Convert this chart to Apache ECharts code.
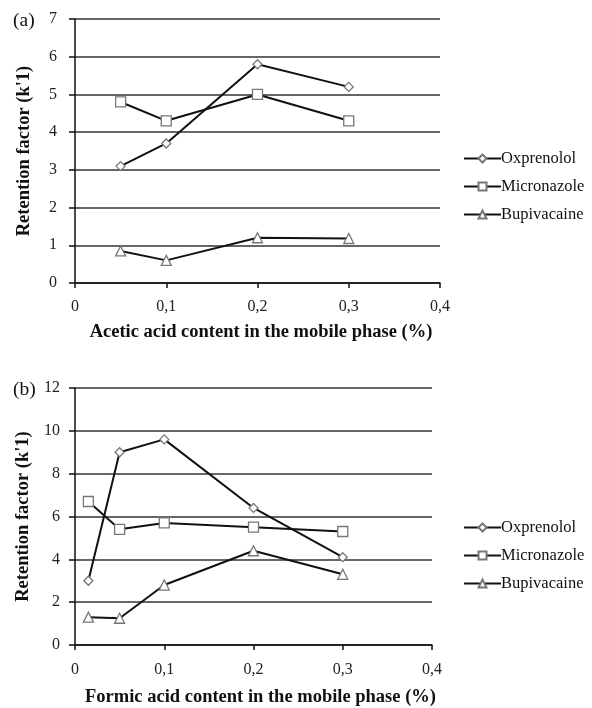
<!DOCTYPE html>
<html><head><meta charset="utf-8">
<script src="https://cdn.jsdelivr.net/npm/echarts@6/dist/echarts.min.js"></script>
<style>html,body{margin:0;padding:0;background:#fff}#c{width:592px;height:708px}</style>
</head><body><div id="c"></div>
<script>
const seriesNames = ['Oxprenolol', 'Micronazole', 'Bupivacaine'];
const symbols = ['diamond', 'rect', 'triangle'];
const symbolSizes = [9, 10, 10];

// Panel (a): acetic acid
const aceticX = [0.05, 0.1, 0.2, 0.3];
const aceticOxprenolol = [3.1, 3.7, 5.8, 5.2];
const aceticMicronazole = [4.8, 4.3, 5.0, 4.3];
const aceticBupivacaine = [0.85, 0.6, 1.2, 1.18];

// Panel (b): formic acid
const formicX = [0.015, 0.05, 0.1, 0.2, 0.3];
const formicOxprenolol = [3.0, 9.0, 9.6, 6.4, 4.1];
const formicMicronazole = [6.7, 5.4, 5.7, 5.5, 5.3];
const formicBupivacaine = [1.3, 1.25, 2.8, 4.4, 3.3];

const xTicks = ['0', '0,1', '0,2', '0,3', '0,4'];

const font = 'Liberation Serif';
const pair = (xs, ys) => xs.map((x, i) => [x, ys[i]]);

function mkSeries(idx, name, xs, ys, k) {
  return {
    type: 'line', name: name, xAxisIndex: idx, yAxisIndex: idx,
    data: pair(xs, ys),
    symbol: symbols[k], symbolSize: symbolSizes[k],
    lineStyle: { color: '#111', width: 2 },
    itemStyle: { color: '#fff', borderColor: '#777', borderWidth: 1.3 },
    emphasis: { disabled: true },
    z: 3
  };
}

function mkX(gridIdx, title, labelMargin, nameGap, shift) {
  return {
    type: 'value', gridIndex: gridIdx, min: 0, max: 0.4, interval: 0.1,
    name: title, nameLocation: 'middle', nameGap: nameGap,
    nameTextStyle: { fontFamily: font, fontSize: 18.5, fontWeight: 'bold', color: '#111',
      padding: [0, 0, 0, shift] },
    axisLine: { show: true, lineStyle: { color: '#111', width: 1.5 } },
    axisTick: { show: true, length: 5, lineStyle: { color: '#111', width: 1.5 } },
    axisLabel: { fontFamily: font, fontSize: 16, color: '#222', margin: labelMargin,
      formatter: v => xTicks[Math.round(v * 10)] },
    splitLine: { show: false }
  };
}

function mkY(gridIdx, max, interval, labelMargin) {
  return {
    type: 'value', gridIndex: gridIdx, min: 0, max: max, interval: interval,
    name: "Retention factor (k'1)", nameLocation: 'middle', nameGap: 41, nameRotate: 90,
    nameTextStyle: { fontFamily: font, fontSize: 18.5, fontWeight: 'bold', color: '#111' },
    axisLine: { show: true, lineStyle: { color: '#111', width: 1.5 } },
    axisTick: { show: true, length: 6, lineStyle: { color: '#111', width: 1.5 } },
    axisLabel: { fontFamily: font, fontSize: 16, color: '#222', margin: labelMargin },
    splitLine: { show: true, lineStyle: { color: '#333', width: 1.5 } }
  };
}

function mkLegend(top) {
  return {
    data: seriesNames, orient: 'vertical', left: 458, top: top,
    itemWidth: 37, itemHeight: 10, itemGap: 11,
    textStyle: { fontFamily: font, fontSize: 16.5, color: '#111', padding: [0, 0, 0, -5] },
    selectedMode: false
  };
}

const option = {
  animation: false,
  backgroundColor: '#fff',
  title: [
    { text: '(a)', left: 8, top: 6, textStyle: { fontFamily: font, fontSize: 19.5, fontWeight: 'normal', color: '#111' } },
    { text: '(b)', left: 8, top: 375, textStyle: { fontFamily: font, fontSize: 19.5, fontWeight: 'normal', color: '#111' } }
  ],
  grid: [
    { left: 75, right: 152, top: 19, height: 264 },
    { left: 75, right: 160, top: 388, height: 262 }
  ],
  xAxis: [
    mkX(0, 'Acetic acid content in the mobile phase (%)', 16, 40, 7),
    mkX(1, 'Formic acid content in the mobile phase (%)', 17, 43, 14)
  ],
  yAxis: [mkY(0, 7, 1, 18), mkY(1, 12, 2, 15)],
  legend: [mkLegend(145), mkLegend(514)],
  series: [
    mkSeries(0, seriesNames[0], aceticX, aceticOxprenolol, 0),
    mkSeries(0, seriesNames[1], aceticX, aceticMicronazole, 1),
    mkSeries(0, seriesNames[2], aceticX, aceticBupivacaine, 2),
    mkSeries(1, seriesNames[0], formicX, formicOxprenolol, 0),
    mkSeries(1, seriesNames[1], formicX, formicMicronazole, 1),
    mkSeries(1, seriesNames[2], formicX, formicBupivacaine, 2)
  ]
};
const chart = echarts.init(document.getElementById('c'), null, { renderer: 'canvas' });
chart.setOption(option);
</script></body></html>
